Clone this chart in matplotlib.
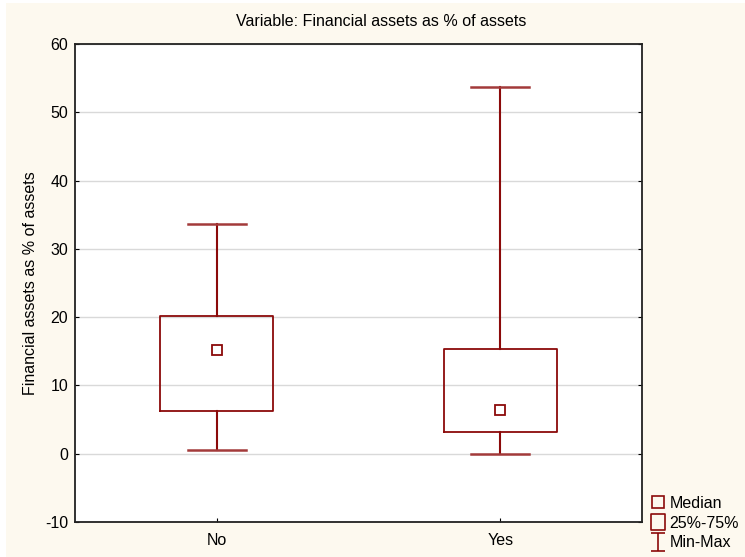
import numpy as np
import matplotlib
matplotlib.use('Agg')
import matplotlib.pyplot as plt
from matplotlib.lines import Line2D
from matplotlib.patches import Rectangle
from matplotlib.path import Path

plt.rcParams['font.family'] = ['Liberation Sans', 'DejaVu Sans']
plt.rcParams['axes.unicode_minus'] = False

# values
groups = ['No', 'Yes']
medians = [15.2, 6.4]
q1 = [6.3, 3.2]
q3 = [20.2, 15.4]
mins = [0.5, 0.0]
maxs = [33.6, 53.7]

box_col = '#8b0a0a'
whisk_col = '#a33a3a'

fig = plt.figure(figsize=(7.45, 5.57), dpi=100, facecolor='white')
# cream panel behind everything (thin white strip at left/top like the original)
fig.patches.append(Rectangle((6/745, -0.01), 1.0, 1.01 - 3/557, transform=fig.transFigure,
                             facecolor='#fdf9ef', edgecolor='none', zorder=-10))

ax = fig.add_axes([75/745, 1 - 522/557, (642 - 75)/745, (522 - 44)/557])
ax.set_facecolor('white')

stats = []
for g, m, a, b, lo, hi in zip(groups, medians, q1, q3, mins, maxs):
    stats.append({'label': g, 'med': m, 'q1': a, 'q3': b,
                  'whislo': lo, 'whishi': hi, 'mean': m, 'fliers': []})

ax.bxp(stats, positions=np.arange(len(groups)), widths=0.40,
       showmeans=True, showfliers=False,
       boxprops=dict(color=box_col, linewidth=1.3),
       whiskerprops=dict(color=box_col, linewidth=1.5),
       capprops=dict(color=whisk_col, linewidth=1.8),
       capwidths=0.205,
       medianprops=dict(linewidth=0),
       meanprops=dict(marker='s', markersize=7.5, markerfacecolor='white',
                      markeredgecolor=box_col, markeredgewidth=1.3))

ax.set_xlim(-0.5, 1.5)
ax.set_ylim(-10, 60)
ax.set_yticks(np.arange(-10, 61, 10))
ax.set_xticks(np.arange(len(groups)))
ax.set_xticklabels(groups)
ax.yaxis.grid(True, color='#d9d9d9', linewidth=1)
ax.set_axisbelow(True)
ax.tick_params(direction='in', length=3, labelsize=11.5, pad=5, right=True)
ax.tick_params(axis='x', pad=8)
for s in ax.spines.values():
    s.set_linewidth(1.3)
    s.set_color('#222222')

# title sits a bit right of the axes centre in the original
fig.text(381/745, 1 - 22/557, 'Variable: Financial assets as % of assets',
         fontsize=11.5, ha='center', va='center')
ax.set_ylabel('Financial assets as % of assets', fontsize=11.5, labelpad=5)

# legend handles
tall_box = Path([(-0.4, -0.5), (0.4, -0.5), (0.4, 0.5), (-0.4, 0.5), (-0.4, -0.5)],
                [Path.MOVETO, Path.LINETO, Path.LINETO, Path.LINETO, Path.CLOSEPOLY])
i_bar = Path([(-0.4, 0.5), (0.4, 0.5), (0, 0.5), (0, -0.5), (-0.4, -0.5), (0.4, -0.5)],
             [Path.MOVETO, Path.LINETO, Path.MOVETO, Path.LINETO, Path.MOVETO, Path.LINETO])
handles = [
    Line2D([], [], linestyle='none', marker='s', markersize=8, markerfacecolor='none',
           markeredgecolor=box_col, markeredgewidth=1.2),
    Line2D([], [], linestyle='none', marker=tall_box, markersize=12, markerfacecolor='none',
           markeredgecolor=box_col, markeredgewidth=1.2),
    Line2D([], [], linestyle='none', marker=i_bar, markersize=12.5, markerfacecolor='none',
           fillstyle='none', markeredgecolor=box_col, markeredgewidth=1.2),
]
fig.legend(handles, ['Median', '25%-75%', 'Min-Max'], loc='lower left',
           bbox_to_anchor=(637/745, -0.011), frameon=False, fontsize=11.5,
           handlelength=1.0, handletextpad=0.25, labelspacing=0.3, borderpad=0.3)

fig.savefig('out.png', dpi=100, facecolor=fig.get_facecolor())
